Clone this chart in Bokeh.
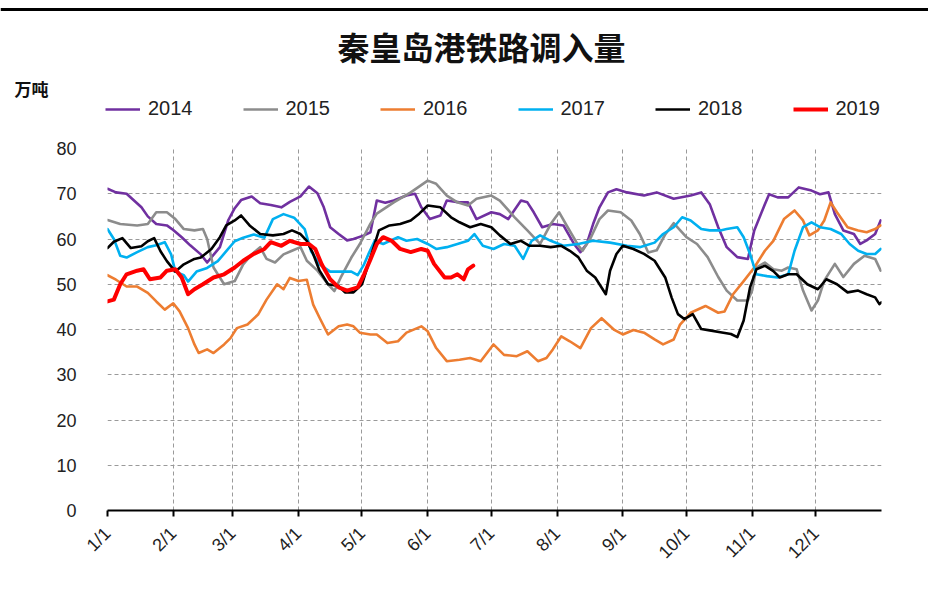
import math
from bokeh.plotting import figure
from bokeh.layouts import column
from bokeh.models import (Range1d, FixedTicker, Legend, LegendItem, Label, Span,
                          ColumnDataSource)
from bokeh.embed import file_html
from bokeh.resources import INLINE

# ---------------- data (day of year, value in 万吨) ----------------
month_starts = [0, 31, 59, 90, 120, 151, 181, 212, 243, 273, 304, 334]
month_labels = ["1/1", "2/1", "3/1", "4/1", "5/1", "6/1", "7/1", "8/1",
                "9/1", "10/1", "11/1", "12/1"]
y_ticks = [0, 10, 20, 30, 40, 50, 60, 70, 80]

days_2014 = [0, 4, 9, 16, 19, 23, 28, 31, 35, 39, 44, 47, 53, 57, 60, 63, 68, 72, 77, 82,
             86, 91, 95, 99, 102, 105, 109, 113, 116, 121, 124, 127, 131, 135, 141, 145,
             148, 152, 157, 160, 166, 170, 174, 181, 185, 189, 195, 198, 201, 205, 210,
             215, 220, 223, 226, 229, 232, 236, 240, 245, 253, 259, 267, 275, 280, 284,
             288, 292, 297, 302, 305, 310, 312, 316, 321, 326, 332, 336, 340, 343, 347,
             352, 355, 358, 362, 364.6]
vals_2014 = [71.1, 70.3, 70.0, 67.0, 65.0, 63.3, 63.0, 62.0, 60.4, 58.6, 56.6, 54.8, 58.2,
             64.2, 66.8, 68.6, 69.4, 67.9, 67.5, 67.0, 68.2, 69.4, 71.6, 70.1, 67.0, 62.6,
             61.1, 59.7, 60.0, 60.8, 61.5, 68.5, 68.0, 68.5, 69.6, 70.0, 67.0, 64.4, 65.2,
             68.5, 68.1, 68.1, 64.4, 65.9, 65.5, 64.4, 68.5, 68.1, 65.9, 62.6, 63.3, 63.0,
             58.9, 57.1, 58.9, 63.3, 67.0, 70.3, 71.0, 70.3, 69.6, 70.3, 68.9, 69.6, 70.3,
             67.7, 62.6, 58.2, 56.0, 55.6, 61.9, 67.7, 69.9, 69.2, 69.2, 71.4, 70.7, 69.9,
             70.3, 65.5, 61.9, 61.1, 58.9, 59.7, 61.1, 64.1]

days_2015 = [0, 6, 14, 19, 23, 28, 32, 36, 41, 45, 47, 50, 55, 60, 64, 68, 72, 75, 79, 83,
             87, 91, 94, 99, 104, 107, 110, 115, 119, 124, 127, 135, 143, 151, 155, 160,
             165, 170, 174, 181, 185, 192, 198, 204, 209, 213, 217, 222, 224, 228, 232,
             236, 242, 247, 251, 255, 259, 263, 267, 273, 278, 283, 288, 292, 297, 302,
             304, 306, 310, 314, 318, 321, 325, 328, 332, 335, 338, 343, 347, 352, 357,
             362, 364.6]
vals_2015 = [64.2, 63.3, 63.0, 63.3, 65.9, 65.9, 64.4, 62.2, 61.9, 62.2, 60.0, 53.7, 50.0,
             50.7, 54.4, 56.6, 58.2, 55.6, 54.8, 56.6, 57.4, 58.2, 55.2, 53.0, 50.0, 48.5,
             51.5, 55.9, 58.9, 63.4, 65.6, 68.1, 70.3, 72.9, 72.2, 69.6, 68.1, 67.4, 68.9,
             69.6, 68.5, 64.8, 61.9, 58.9, 63.3, 65.9, 62.6, 58.6, 57.4, 60.4, 64.4, 66.3,
             65.9, 64.1, 61.1, 57.0, 57.5, 61.0, 63.5, 60.4, 58.9, 56.0, 51.6, 48.6, 46.4,
             46.4, 48.6, 53.7, 54.8, 53.3, 53.0, 53.7, 53.3, 48.6, 44.2, 46.4, 50.8, 54.5,
             51.6, 54.5, 56.3, 55.6, 53.0]

days_2016 = [0, 4, 9, 14, 19, 23, 27, 31, 34, 38, 41, 43, 47, 50, 55, 58, 61, 66, 71, 75,
             80, 83, 86, 90, 94, 97, 100, 104, 109, 113, 116, 119, 124, 127, 132, 137, 141,
             148, 151, 155, 160, 166, 171, 176, 182, 187, 193, 198, 203, 207, 210, 214,
             218, 223, 228, 233, 239, 243, 248, 253, 258, 262, 267, 270, 275, 282, 288,
             291, 295, 300, 305, 310, 314, 319, 324, 328, 331, 335, 338, 341, 344, 349,
             354, 358, 362, 364.6]
vals_2016 = [52.0, 51.0, 49.5, 49.5, 48.1, 46.2, 44.4, 45.8, 44.0, 40.3, 36.7, 34.8, 35.6,
             34.8, 36.7, 38.1, 40.3, 41.1, 43.3, 46.6, 50.0, 48.9, 51.4, 50.7, 51.0, 45.5,
             42.6, 38.9, 40.7, 41.1, 40.7, 39.3, 38.9, 38.9, 37.0, 37.4, 39.3, 40.7, 39.6,
             35.9, 33.0, 33.3, 33.7, 33.0, 36.7, 34.4, 34.1, 35.2, 33.0, 33.7, 35.6, 38.5,
             37.4, 35.9, 40.3, 42.5, 39.9, 38.9, 39.9, 39.3, 37.8, 36.7, 37.8, 41.1, 43.7,
             45.2, 43.7, 44.0, 47.8, 50.7, 53.7, 57.4, 59.6, 64.4, 66.3, 64.1, 60.8, 61.9,
             64.1, 68.1, 65.9, 62.6, 61.9, 61.5, 62.2, 63.0]

days_2017 = [0, 3, 6, 9, 14, 19, 23, 27, 30, 32, 36, 38, 42, 47, 52, 56, 60, 64, 69, 74,
             78, 83, 88, 93, 96, 100, 105, 110, 115, 118, 121, 123, 126, 130, 137, 141,
             146, 151, 155, 160, 165, 170, 173, 177, 182, 187, 192, 196, 200, 204, 209,
             215, 222, 229, 237, 245, 251, 258, 262, 267, 271, 275, 280, 284, 289, 292,
             297, 300, 303, 306, 311, 316, 321, 324, 328, 332, 336, 341, 346, 350, 354,
             358, 362, 364.6]
vals_2017 = [62.2, 60.0, 56.3, 55.9, 57.1, 58.2, 58.6, 59.3, 56.6, 52.8, 52.0, 50.6, 52.8,
             53.6, 55.1, 57.3, 59.5, 60.3, 61.0, 60.3, 64.4, 65.5, 64.7, 62.2, 57.3, 54.4,
             52.8, 52.8, 52.8, 52.0, 54.4, 56.6, 59.6, 58.9, 60.4, 59.6, 60.0, 58.9, 57.8,
             58.2, 58.9, 59.6, 61.1, 58.5, 57.8, 58.9, 58.5, 55.6, 59.6, 60.8, 59.6, 58.5,
             58.9, 59.6, 59.2, 58.5, 58.2, 59.2, 61.1, 62.6, 64.8, 64.1, 62.2, 61.9, 61.9,
             62.2, 62.6, 60.4, 56.7, 52.2, 51.8, 51.5, 52.2, 57.4, 62.6, 63.7, 62.6, 62.2,
             61.1, 58.9, 57.4, 56.7, 56.7, 57.8]

days_2018 = [0, 3, 7, 11, 16, 19, 22, 25, 28, 32, 36, 41, 44, 49, 53, 56, 60, 63, 67, 72,
             78, 83, 87, 91, 94, 97, 100, 104, 109, 112, 116, 120, 124, 128, 133, 138, 143,
             147, 151, 157, 162, 166, 171, 176, 181, 185, 190, 195, 199, 204, 209, 214,
             218, 222, 226, 230, 232, 235, 237, 240, 243, 248, 253, 258, 263, 266, 269,
             272, 276, 280, 284, 289, 294, 297, 300, 303, 306, 310, 314, 317, 321, 325,
             330, 335, 339, 344, 349, 354, 358, 362, 364, 364.9]
vals_2018 = [58.0, 59.4, 60.2, 58.0, 58.4, 59.5, 60.2, 57.3, 55.1, 52.8, 54.4, 55.6, 55.9,
             57.8, 60.4, 63.0, 64.1, 65.2, 63.0, 61.1, 60.8, 61.1, 61.9, 61.1, 59.6, 56.7,
             53.0, 50.0, 49.6, 48.2, 48.2, 50.0, 55.9, 61.9, 63.0, 63.3, 64.1, 65.6, 67.4,
             67.0, 64.8, 63.7, 62.6, 63.3, 62.6, 60.8, 58.9, 59.6, 58.5, 58.5, 58.2, 58.5,
             57.4, 56.0, 53.0, 51.5, 50.0, 47.8, 53.0, 56.7, 58.5, 57.8, 56.7, 55.2, 51.5,
             47.1, 43.4, 42.3, 43.4, 40.1, 39.8, 39.4, 39.0, 38.3, 42.0, 49.3, 53.3, 54.1,
             52.9, 51.5, 52.2, 52.2, 50.0, 48.9, 51.1, 50.0, 48.2, 48.6, 47.8, 47.1, 45.6,
             46.0]

days_2019 = [0, 3, 6, 9, 14, 17, 20, 25, 28, 32, 35, 38, 41, 45, 50, 55, 60, 64, 69, 74,
             77, 82, 86, 91, 95, 98, 101, 105, 109, 113, 118, 121, 124, 127, 130, 134, 138,
             143, 148, 151, 154, 159, 162, 165, 168, 170, 172.5]
vals_2019 = [46.2, 46.6, 50.0, 52.2, 53.0, 53.3, 51.1, 51.5, 53.0, 53.3, 51.5, 47.8, 48.9,
             50.0, 51.5, 52.2, 53.7, 55.2, 56.7, 57.8, 59.3, 58.5, 59.6, 58.9, 58.9, 57.8,
             54.4, 51.1, 49.3, 48.6, 49.3, 52.2, 55.5, 58.9, 60.4, 59.6, 57.8, 57.1, 57.8,
             57.4, 54.5, 51.5, 51.5, 52.2, 51.1, 53.3, 54.1]

series = [
    ("2014", days_2014, vals_2014, "#7030A0", 2.6),
    ("2015", days_2015, vals_2015, "#8C8C8C", 2.6),
    ("2016", days_2016, vals_2016, "#ED7D31", 2.6),
    ("2017", days_2017, vals_2017, "#00B0F0", 2.6),
    ("2018", days_2018, vals_2018, "#000000", 2.6),
    ("2019", days_2019, vals_2019, "#FF0000", 4.0),
]

W = 928
HEAD_H = 140
MAIN_H = 463

# ---------------- header: title, unit, legend ----------------
head = figure(width=W, height=HEAD_H, output_backend="svg", toolbar_location=None,
              x_range=Range1d(0, W), y_range=Range1d(HEAD_H, 0),
              x_axis_location=None, y_axis_location=None,
              min_border_left=0, min_border_right=0, min_border_top=0,
              min_border_bottom=0)
head.frame_align = False
head.title = None
head.outline_line_color = None
head.xgrid.visible = False
head.ygrid.visible = False

head.add_layout(Span(location=9, dimension="width", line_color="black", line_width=3))

head.add_layout(Label(x=481, y=45, text="秦皇岛港铁路调入量",
                      text_font="Noto Sans CJK SC", text_font_size="32px",
                      text_font_style="bold", text_align="center",
                      text_baseline="middle", text_color="#111111"))
head.add_layout(Label(x=14, y=88, text="万吨",
                      text_font="Noto Sans CJK SC", text_font_size="17px",
                      text_font_style="bold", text_align="left",
                      text_baseline="middle", text_color="#111111"))

nan = float("nan")
items = []
for name, d, v, c, lw in series:
    r = head.line(x=[nan], y=[nan], line_color=c, line_width=lw)
    items.append(LegendItem(label=name, renderers=[r]))
legend = Legend(items=items, orientation="horizontal", location=(105, 20),
                glyph_width=35, glyph_height=20, label_height=20,
                label_standoff=8, spacing=50, padding=0, margin=0,
                border_line_color=None, background_fill_alpha=0,
                label_text_font="Liberation Sans", label_text_font_size="20px",
                label_text_color="#222222")
head.add_layout(legend)

# ---------------- main chart ----------------
p = figure(width=W, height=MAIN_H, output_backend="svg", toolbar_location=None,
           x_range=Range1d(0, 365), y_range=Range1d(0, 80),
           min_border_left=107, min_border_right=47, min_border_top=8,
           min_border_bottom=93)
p.frame_align = False
p.title = None
p.outline_line_color = None

for name, d, v, c, lw in series:
    src = ColumnDataSource(dict(x=d, y=v))
    p.line("x", "y", source=src, line_color=c, line_width=lw,
           line_join="round", line_cap="round")

p.xaxis.ticker = FixedTicker(ticks=month_starts)
p.xaxis.major_label_overrides = {m: l for m, l in zip(month_starts, month_labels)}
p.xaxis.major_label_orientation = math.pi / 4
p.xaxis.axis_line_color = "black"
p.xaxis.axis_line_width = 2
p.xaxis.major_tick_line_color = "black"
p.xaxis.major_tick_line_width = 2
p.xaxis.major_tick_out = 6
p.xaxis.major_tick_in = 0
p.xaxis.minor_tick_line_color = None
p.xaxis.major_label_text_font = "Liberation Sans"
p.xaxis.major_label_text_font_size = "18px"
p.xaxis.major_label_text_color = "#222222"
p.xaxis.major_label_standoff = 14

p.yaxis.ticker = FixedTicker(ticks=y_ticks)
p.yaxis.axis_line_color = None
p.yaxis.major_tick_line_color = None
p.yaxis.minor_tick_line_color = None
p.yaxis.major_label_text_font = "Liberation Sans"
p.yaxis.major_label_text_font_size = "18px"
p.yaxis.major_label_text_color = "#222222"
p.yaxis.major_label_standoff = 25

p.xgrid.grid_line_color = "#9A9A9A"
p.xgrid.grid_line_dash = "4 3"
p.ygrid.grid_line_color = "#9A9A9A"
p.ygrid.grid_line_dash = "4 3"

layout = column(head, p, spacing=0)
open("out.html", "w").write(file_html(layout, INLINE))
